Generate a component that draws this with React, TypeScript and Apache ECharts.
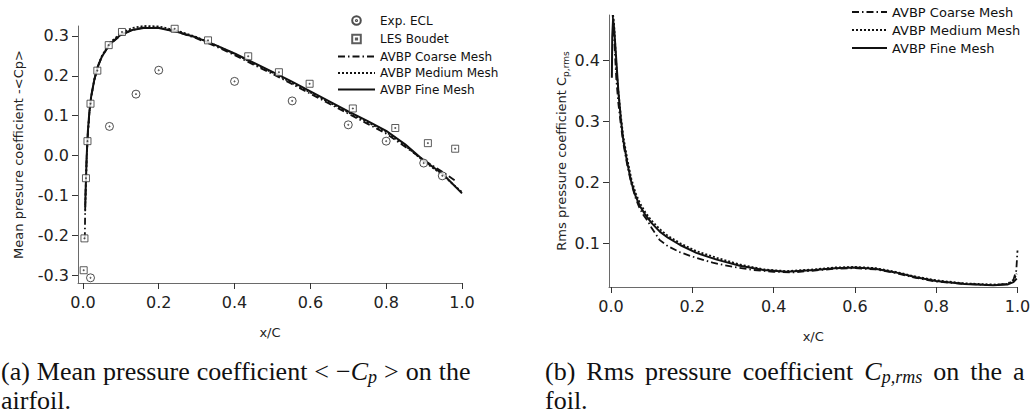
import React, { useEffect, useRef } from "react";
import * as echarts from "echarts";

// ---------- tick labels ----------
const xTickValues = [0, 0.2, 0.4, 0.6, 0.8, 1.0];
const cpTickValues = [-0.3, -0.2, -0.1, 0.0, 0.1, 0.2, 0.3];
const rmsTickValues = [0.1, 0.2, 0.3, 0.4];

// ---------- (a) mean pressure coefficient ----------
const expEclX = [0.02, 0.07, 0.14, 0.2, 0.4, 0.552, 0.7, 0.8, 0.899, 0.948];
const expEclY = [-0.307, 0.073, 0.154, 0.214, 0.186, 0.137, 0.077, 0.036, -0.019, -0.051];

const lesX = [0.002, 0.004, 0.008, 0.012, 0.02, 0.038, 0.068, 0.103, 0.153, 0.2, 0.242, 0.33, 0.436, 0.517, 0.598, 0.712, 0.824, 0.91, 0.982];
const lesY = [-0.288, -0.208, -0.057, 0.036, 0.13, 0.213, 0.277, 0.31, 0.329, 0.329, 0.318, 0.289, 0.249, 0.209, 0.18, 0.118, 0.069, 0.031, 0.017];

const cpCoarseX = [0.005, 0.006, 0.008, 0.01, 0.013, 0.017, 0.022, 0.03, 0.04, 0.05, 0.07, 0.1, 0.13, 0.16, 0.2, 0.25, 0.3, 0.35, 0.4, 0.45, 0.5, 0.55, 0.6, 0.65, 0.7, 0.75, 0.8, 0.85, 0.9, 0.95, 0.985];
const cpCoarseY = [-0.21, -0.13, -0.06, 0.0, 0.055, 0.105, 0.148, 0.19, 0.225, 0.248, 0.278, 0.302, 0.315, 0.321, 0.321, 0.31, 0.294, 0.274, 0.252, 0.228, 0.205, 0.18, 0.155, 0.13, 0.105, 0.08, 0.055, 0.022, -0.012, -0.042, -0.065];

const cpMediumX = [0.006, 0.008, 0.01, 0.013, 0.017, 0.022, 0.03, 0.04, 0.05, 0.07, 0.1, 0.13, 0.16, 0.2, 0.25, 0.3, 0.35, 0.4, 0.45, 0.5, 0.55, 0.6, 0.65, 0.7, 0.75, 0.8, 0.85, 0.9, 0.95, 1.0];
const cpMediumY = [-0.14, -0.065, -0.005, 0.055, 0.105, 0.148, 0.19, 0.226, 0.25, 0.282, 0.307, 0.32, 0.325, 0.324, 0.313, 0.297, 0.277, 0.255, 0.231, 0.208, 0.183, 0.158, 0.133, 0.108, 0.084, 0.059, 0.025, -0.015, -0.05, -0.092];

const cpFineX = [0.006, 0.008, 0.01, 0.013, 0.017, 0.022, 0.03, 0.04, 0.05, 0.07, 0.1, 0.13, 0.16, 0.2, 0.25, 0.3, 0.35, 0.4, 0.45, 0.5, 0.55, 0.6, 0.65, 0.7, 0.75, 0.8, 0.85, 0.9, 0.95, 1.0];
const cpFineY = [-0.125, -0.06, 0.0, 0.06, 0.11, 0.15, 0.19, 0.225, 0.248, 0.279, 0.303, 0.315, 0.32, 0.32, 0.31, 0.296, 0.277, 0.256, 0.233, 0.21, 0.186, 0.161, 0.136, 0.111, 0.087, 0.062, 0.028, -0.013, -0.047, -0.095];

// ---------- (b) rms pressure coefficient ----------
const rmsCoarseX = [0.004, 0.006, 0.009, 0.013, 0.018, 0.024, 0.03, 0.04, 0.05, 0.06, 0.07, 0.08, 0.09, 0.1, 0.12, 0.14, 0.17, 0.2, 0.25, 0.3, 0.35, 0.4, 0.45, 0.5, 0.55, 0.6, 0.65, 0.7, 0.75, 0.8, 0.87, 0.94, 0.975, 0.99, 0.997, 1.0];
const rmsCoarseY = [0.475, 0.46, 0.42, 0.37, 0.33, 0.295, 0.265, 0.228, 0.198, 0.175, 0.158, 0.146, 0.137, 0.125, 0.105, 0.095, 0.085, 0.078, 0.068, 0.061, 0.056, 0.053, 0.052, 0.055, 0.058, 0.059, 0.057, 0.051, 0.043, 0.037, 0.033, 0.031, 0.033, 0.04, 0.055, 0.088];

const rmsMediumX = [0.005, 0.007, 0.01, 0.014, 0.018, 0.024, 0.03, 0.04, 0.05, 0.06, 0.071, 0.085, 0.1, 0.12, 0.14, 0.17, 0.21, 0.26, 0.317, 0.375, 0.432, 0.5, 0.55, 0.6, 0.65, 0.7, 0.75, 0.8, 0.87, 0.94, 0.975, 0.99, 0.998];
const rmsMediumY = [0.475, 0.465, 0.43, 0.38, 0.35, 0.31, 0.276, 0.238, 0.206, 0.183, 0.166, 0.15, 0.137, 0.123, 0.112, 0.1, 0.087, 0.076, 0.065, 0.057, 0.054, 0.057, 0.06, 0.061, 0.059, 0.053, 0.045, 0.039, 0.034, 0.032, 0.033, 0.038, 0.05];

const rmsFineX = [0.002, 0.003, 0.005, 0.008, 0.012, 0.018, 0.024, 0.03, 0.04, 0.05, 0.06, 0.071, 0.085, 0.1, 0.12, 0.14, 0.17, 0.21, 0.26, 0.317, 0.375, 0.432, 0.5, 0.55, 0.6, 0.65, 0.7, 0.75, 0.8, 0.87, 0.94, 0.975, 0.99, 0.998];
const rmsFineY = [0.372, 0.44, 0.468, 0.45, 0.41, 0.35, 0.305, 0.27, 0.232, 0.2, 0.178, 0.161, 0.146, 0.133, 0.119, 0.109, 0.097, 0.084, 0.073, 0.063, 0.056, 0.053, 0.056, 0.059, 0.06, 0.058, 0.052, 0.044, 0.038, 0.033, 0.031, 0.032, 0.036, 0.042];

const zip = (xs: number[], ys: number[]) => xs.map((x, i) => [x, ys[i]]);

const FONT = "DejaVu Sans";
const SERIF = "Liberation Serif";
const INK = "#111";
const AXIS = "#6a6a6a";

const circleDot = "path://M0,-5A5,5,0,1,1,0,5A5,5,0,1,1,0,-5ZM0,-0.7A0.7,0.7,0,1,1,0,0.7A0.7,0.7,0,1,1,0,-0.7Z";
const squareDot = "path://M-5,-5L5,-5L5,5L-5,5ZM-0.7,-0.7L0.7,-0.7L0.7,0.7L-0.7,0.7Z";
const circleDotIcon = "path://M-7,-7M7,7M0,-5A5,5,0,1,1,0,5A5,5,0,1,1,0,-5ZM0,-0.7A0.7,0.7,0,1,1,0,0.7A0.7,0.7,0,1,1,0,-0.7Z";
const squareDotIcon = "path://M-7,-7M7,7M-5,-5L5,-5L5,5L-5,5ZM-0.7,-0.7L0.7,-0.7L0.7,0.7L-0.7,0.7Z";

const COARSE_DASH = [7, 3, 1.5, 3];
const MEDIUM_DASH = [2, 2];

const lineLegend = (name: string) => ({ name, itemStyle: { opacity: 0 } });

const CAP_SIZE = 26;
const CAP_LH = 29;

export default function App() {
  const ref = useRef<HTMLDivElement>(null);
  useEffect(() => {
    const chart = echarts.init(ref.current!, null, { renderer: "svg" });
    const fmt = (v: number) => v.toFixed(1);
    const xAxisBase = (grid: number, min: number) => ({
      gridIndex: grid,
      type: "value",
      min,
      max: 1.0,
      splitLine: { show: false },
      axisLine: { onZero: false, lineStyle: { color: AXIS, width: 1 } },
      axisTick: { customValues: xTickValues, length: 6, lineStyle: { color: "#333" } },
      axisLabel: { customValues: xTickValues, formatter: fmt, fontSize: 16, color: "#222", margin: 11, fontFamily: FONT },
      name: "x/C",
      nameLocation: "middle",
      nameGap: 43,
      nameTextStyle: { fontSize: 13, color: "#222", fontFamily: FONT },
    });
    const lineSeries = (name: string, xa: number, data: number[][], type: any, width: number) => ({
      name,
      type: "line",
      xAxisIndex: xa,
      yAxisIndex: xa,
      data,
      symbol: "none",
      smooth: false,
      lineStyle: { color: INK, width, type },
      itemStyle: { color: INK },
      z: 3,
    });
    const captionRich = (space: number) => ({
      it: { fontFamily: SERIF, fontSize: CAP_SIZE, fontStyle: "italic", fill: "#111", lineHeight: CAP_LH },
      sub: { fontFamily: SERIF, fontSize: 18, fontStyle: "italic", fill: "#111", verticalAlign: "bottom", lineHeight: 19 },
      w: { fontFamily: SERIF, fontSize: CAP_SIZE, width: space, lineHeight: CAP_LH },
    });
    chart.setOption({
      animation: false,
      backgroundColor: "#fff",
      grid: [
        { left: 78, top: 26, width: 384, height: 257 },
        { left: 609, top: 15, width: 408.5, height: 272 },
      ],
      xAxis: [xAxisBase(0, -0.013), xAxisBase(1, -0.005)],
      yAxis: [
        {
          gridIndex: 0,
          type: "value",
          min: -0.32,
          max: 0.325,
          splitLine: { show: false },
          axisLine: { show: true, onZero: false, lineStyle: { color: AXIS, width: 1 } },
          axisTick: { show: true, customValues: cpTickValues, length: 6, lineStyle: { color: "#333" } },
          axisLabel: { customValues: cpTickValues, formatter: fmt, fontSize: 16, color: "#222", margin: 9, fontFamily: FONT },
          name: "Mean presure coefficient -<Cp>",
          nameLocation: "middle",
          nameGap: 53,
          nameTextStyle: { fontSize: 13, color: "#222", fontFamily: FONT },
        },
        {
          gridIndex: 1,
          type: "value",
          min: 0.028,
          max: 0.475,
          splitLine: { show: false },
          axisLine: { show: true, onZero: false, lineStyle: { color: AXIS, width: 1 } },
          axisTick: { show: true, customValues: rmsTickValues, length: 6, lineStyle: { color: "#333" } },
          axisLabel: { customValues: rmsTickValues, formatter: fmt, fontSize: 16, color: "#222", margin: 9, fontFamily: FONT },
          name: "Rms pressure coefficient C{sub|p,rms}",
          nameLocation: "middle",
          nameGap: 38,
          nameTextStyle: {
            fontSize: 13,
            color: "#222",
            fontFamily: FONT,
            lineHeight: 18,
            rich: { sub: { fontSize: 9, fontFamily: FONT, color: "#222", verticalAlign: "bottom", lineHeight: 9 } },
          },
        },
      ],
      legend: [
        {
          left: 337,
          top: 13.5,
          orient: "vertical",
          padding: 0,
          itemWidth: 37,
          itemHeight: 12,
          itemGap: 4.5,
          selectedMode: false,
          textStyle: { fontSize: 12, color: INK, fontFamily: FONT, lineHeight: 12 },
          data: [
            { name: "Exp. ECL", icon: circleDotIcon },
            { name: "LES Boudet", icon: squareDotIcon },
            lineLegend("AVBP Coarse Mesh"),
            lineLegend("AVBP Medium Mesh"),
            lineLegend("AVBP Fine Mesh"),
          ],
        },
        {
          left: 851,
          top: 5.5,
          orient: "vertical",
          padding: 0,
          itemWidth: 35,
          itemHeight: 13,
          itemGap: 5,
          selectedMode: false,
          textStyle: { fontSize: 13, color: INK, fontFamily: FONT, lineHeight: 13 },
          data: [lineLegend("AVBP Coarse Mesh"), lineLegend("AVBP Medium Mesh"), lineLegend("AVBP Fine Mesh")],
        },
      ],
      series: [
        {
          name: "Exp. ECL",
          type: "scatter",
          xAxisIndex: 0,
          yAxisIndex: 0,
          data: zip(expEclX, expEclY),
          symbol: circleDot,
          symbolSize: 8,
          itemStyle: { color: "#fff", borderColor: "#222", borderWidth: 1 },
          z: 4,
        },
        {
          name: "LES Boudet",
          type: "scatter",
          xAxisIndex: 0,
          yAxisIndex: 0,
          data: zip(lesX, lesY),
          symbol: squareDot,
          symbolSize: 7,
          itemStyle: { color: "#fff", borderColor: "#333", borderWidth: 1 },
          z: 4,
        },
        lineSeries("AVBP Coarse Mesh", 0, zip(cpCoarseX, cpCoarseY), COARSE_DASH, 1.8),
        lineSeries("AVBP Medium Mesh", 0, zip(cpMediumX, cpMediumY), MEDIUM_DASH, 1.8),
        lineSeries("AVBP Fine Mesh", 0, zip(cpFineX, cpFineY), "solid", 2),
        lineSeries("AVBP Coarse Mesh", 1, zip(rmsCoarseX, rmsCoarseY), COARSE_DASH, 1.8),
        lineSeries("AVBP Medium Mesh", 1, zip(rmsMediumX, rmsMediumY), MEDIUM_DASH, 1.8),
        lineSeries("AVBP Fine Mesh", 1, zip(rmsFineX, rmsFineY), "solid", 2),
      ],
      graphic: [
        {
          type: "text",
          left: 1,
          top: 357,
          style: {
            text: "(a){w| }Mean{w| }pressure{w| }coefficient{w| }<{w| }−{it|C}{sub|p}{w| }>{w| }on{w| }the\nairfoil.",
            fontFamily: SERIF,
            fontSize: CAP_SIZE,
            lineHeight: CAP_LH,
            fill: "#111",
            rich: captionRich(7),
          },
        },
        {
          type: "text",
          left: 545,
          top: 357,
          style: {
            text: "(b){w| }Rms{w| }pressure{w| }coefficient{w| }{it|C}{sub|p,rms}{w| }on{w| }the{w| }a\nfoil.",
            fontFamily: SERIF,
            fontSize: CAP_SIZE,
            lineHeight: CAP_LH,
            fill: "#111",
            rich: captionRich(11),
          },
        },
      ],
    });
    return () => chart.dispose();
  }, []);
  return (
    <div
      ref={ref}
      style={{ position: "absolute", left: 0, top: 0, width: 1035, height: 420, background: "#fff" }}
    />
  );
}
